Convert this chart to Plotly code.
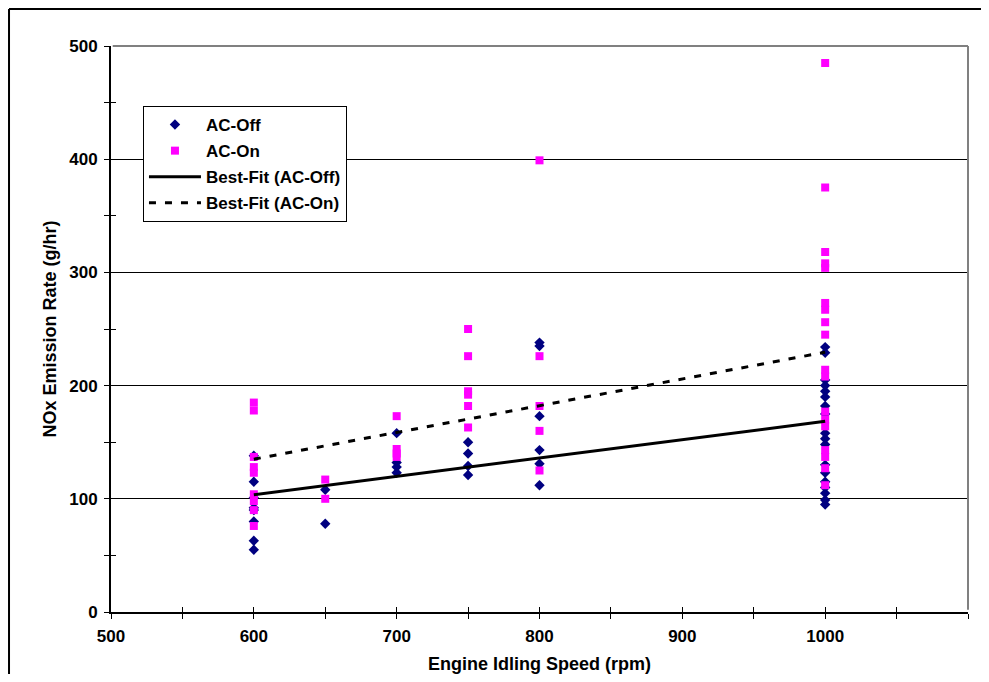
import plotly.graph_objects as go

# ---- data ----
rpm_600_off = [138, 115, 101, 92, 90, 80, 63, 55]
rpm_600_on = [185, 178, 137, 128, 123, 104, 98, 90, 76]
rpm_650_off = [108, 78]
rpm_650_on = [117, 100]
rpm_700_off = [158, 132, 128, 123]
rpm_700_on = [173, 144, 140, 137]
rpm_750_off = [150, 140, 129, 121]
rpm_750_on = [250, 226, 195, 192, 182, 163]
rpm_800_off = [238, 235, 173, 143, 131, 112]
rpm_800_on = [399, 226, 182, 160, 125]
rpm_1000_off = [234, 229, 205, 200, 195, 190, 182, 175, 158, 153, 148, 130, 123, 115, 110, 105, 99, 95]
rpm_1000_on = [485, 375, 318, 308, 304, 273, 267, 256, 245, 214, 208, 177, 170, 164, 143, 137, 127, 112]

speeds = [600, 650, 700, 750, 800, 1000]
off_groups = [rpm_600_off, rpm_650_off, rpm_700_off, rpm_750_off, rpm_800_off, rpm_1000_off]
on_groups = [rpm_600_on, rpm_650_on, rpm_700_on, rpm_750_on, rpm_800_on, rpm_1000_on]

fit_x = [600, 1000]
fit_off = [103.5, 168.5]
fit_on = [135, 229.5]

x_ticks = [500, 600, 700, 800, 900, 1000, 1100]
y_ticks = [0, 100, 200, 300, 400, 500]

off_x = [s for s, g in zip(speeds, off_groups) for _ in g]
off_y = [v for g in off_groups for v in g]
on_x = [s for s, g in zip(speeds, on_groups) for _ in g]
on_y = [v for g in on_groups for v in g]

FONT = "Liberation Sans, Arial, sans-serif"
fig = go.Figure()
fig.add_trace(go.Scatter(x=off_x, y=off_y, mode="markers", name="AC-Off", legendgroup="a",
                         marker=dict(symbol="diamond", size=8, color="#000080")))
fig.add_trace(go.Scatter(x=on_x, y=on_y, mode="markers", name="AC-On", legendgroup="b",
                         marker=dict(symbol="square", size=8, color="#FF00FF",
                                     line=dict(color="#FF00FF", width=0))))
fig.add_trace(go.Scatter(x=fit_x, y=fit_off, mode="lines", name="Best-Fit (AC-Off)", legendgroup="c",
                         line=dict(color="black", width=3)))
fig.add_trace(go.Scatter(x=fit_x, y=fit_on, mode="lines", name="Best-Fit (AC-On)", legendgroup="d",
                         line=dict(color="black", width=3, dash="7px,9px")))
# invisible helper trace for overlay axes (crossing ticks)
fig.add_trace(go.Scatter(x=[x_ticks[0]], y=[y_ticks[0]], xaxis="x2", yaxis="y2", mode="markers",
                         marker=dict(opacity=0), showlegend=False, hoverinfo="skip"))

tickfont = dict(family=FONT, size=17, color="black", weight="bold")
titlefont = dict(family=FONT, size=18, color="black", weight="bold")
fig.update_layout(
    width=973, height=666,
    margin=dict(l=103, r=13, t=38, b=62, autoexpand=False),
    paper_bgcolor="white", plot_bgcolor="white",
    showlegend=True,
    legend=dict(x=0.0373, y=0.894, xanchor="left", yanchor="top",
                bgcolor="white", bordercolor="black", borderwidth=1,
                font=dict(family=FONT, size=17, color="black", weight="bold"),
                traceorder="grouped", tracegroupgap=1, itemwidth=52),
    xaxis=dict(range=[500, 1100], tickvals=x_ticks, showgrid=False, zeroline=False,
               showline=True, linecolor="black", linewidth=2, automargin=False,
               ticks="outside", ticklen=5, tickcolor="black", tickwidth=1,
               minor=dict(dtick=50, tick0=500, ticks="outside", ticklen=5, tickcolor="black", showgrid=False),
               tickfont=tickfont, ticklabelstandoff=3,
               title=dict(text="Engine Idling Speed (rpm)", standoff=13, font=titlefont)),
    yaxis=dict(range=[0, 500], tickvals=y_ticks, showgrid=True, gridcolor="black", gridwidth=1,
               zeroline=False, showline=True, linecolor="black", linewidth=2, automargin=False,
               ticks="outside", ticklen=5, tickcolor="black", tickwidth=1,
               minor=dict(dtick=50, tick0=0, ticks="outside", ticklen=5, tickcolor="black", showgrid=False),
               tickfont=tickfont, ticklabelstandoff=3,
               title=dict(text="NOx Emission Rate (g/hr)", standoff=8, font=titlefont)),
    xaxis2=dict(overlaying="x", anchor="y", side="bottom", range=[500, 1100], dtick=50, tick0=500,
                ticks="inside", ticklen=5, tickcolor="black", showticklabels=False, automargin=False,
                showgrid=False, zeroline=False, showline=False),
    yaxis2=dict(overlaying="y", anchor="x", side="left", range=[0, 500], tickvals=[50, 150, 250, 350, 450],
                ticks="inside", ticklen=5, tickcolor="black", showticklabels=False, automargin=False,
                showgrid=False, zeroline=False, showline=False),
    shapes=[
        # gray frame top/right of plot area
        dict(type="line", xref="paper", yref="paper", x0=0.002, x1=1, y0=1, y1=1,
             line=dict(color="#808080", width=2), layer="above"),
        dict(type="line", xref="paper", yref="paper", x0=1, x1=1, y0=0.004, y1=1,
             line=dict(color="#808080", width=2), layer="above"),
        # outer chart border (top and left)
        dict(type="line", xref="paper", yref="paper", x0=-0.119, x1=1.1, y0=1.0654, y1=1.0654,
             line=dict(color="black", width=2)),
        dict(type="line", xref="paper", yref="paper", x0=-0.119, x1=-0.119, y0=-0.2, y1=1.0654,
             line=dict(color="black", width=2)),
    ],
)

fig.write_html("out.html")
